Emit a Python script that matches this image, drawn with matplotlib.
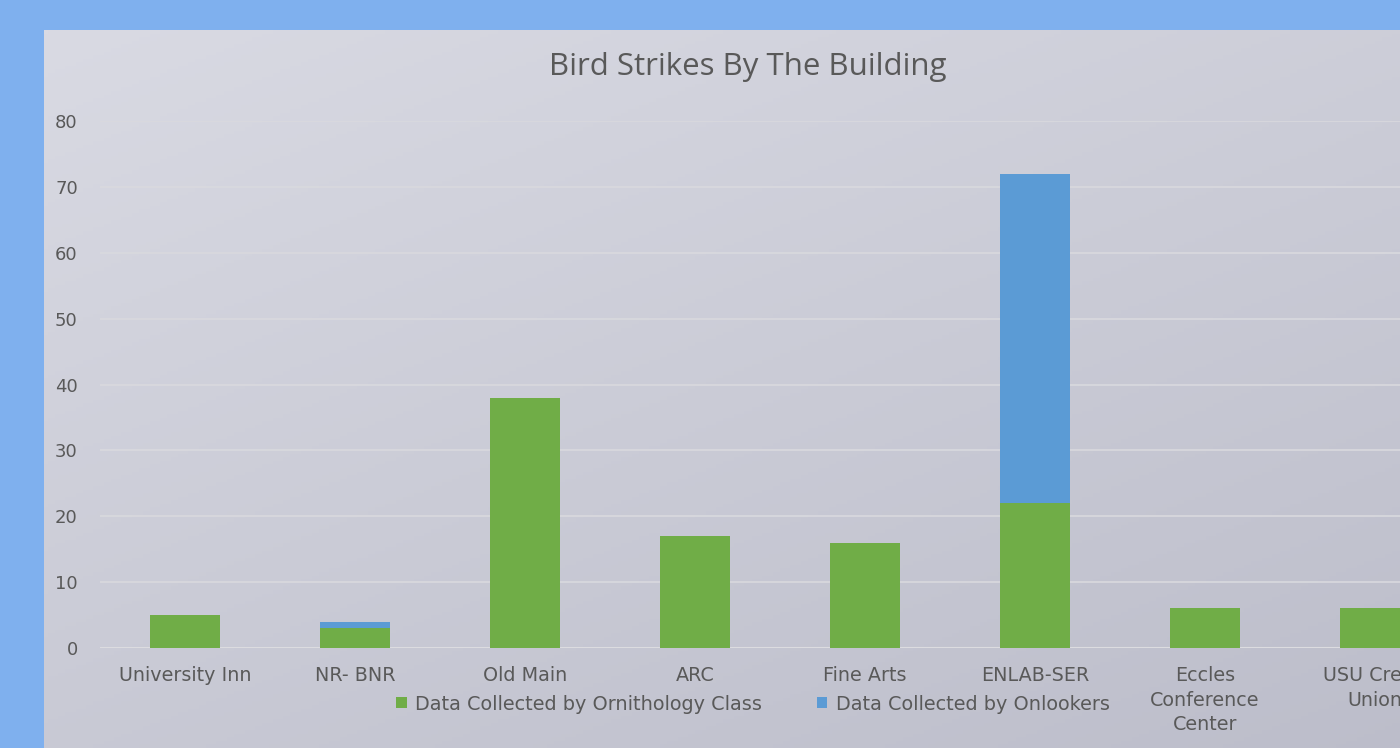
import matplotlib

matplotlib.use("Agg")
import matplotlib.pyplot as plt
import numpy as np

# Datos
edificios = [
    "University Inn",
    "NR- BNR",
    "Old Main",
    "ARC",
    "Fine Arts",
    "ENLAB-SER",
    "Eccles\nConference\nCenter",
    "USU Credit\nUnion",
]
ornitologia = [5, 3, 38, 17, 16, 22, 6, 6]
observadores = [0, 1, 0, 0, 0, 50, 0, 0]

verde = "#70AD47"
azul = "#5B9BD5"
gris_texto = "#595959"

fig = plt.figure(figsize=(14, 7.48), dpi=100)
fig.patch.set_facecolor("#7FB0EE")

# Fondo del área del gráfico con degradado diagonal
fondo = fig.add_axes([44 / 1400, 0, (1452 - 44) / 1400, 718 / 748])
fondo.set_axis_off()
yy, xx = np.mgrid[0:1:200j, 0:1:400j]
t = (xx * 0.6 + yy * 0.8) / 1.4
c0 = np.array([217, 218, 227]) / 255
c1 = np.array([188, 189, 202]) / 255
img = c0[None, None, :] * (1 - t[..., None]) + c1[None, None, :] * t[..., None]
fondo.imshow(img, aspect="auto", extent=[0, 1, 0, 1], origin="upper")
fondo.set_xlim(0, 1)
fondo.set_ylim(0, 1)

ax = fig.add_axes([100 / 1400, 100 / 748, 1360 / 1400, 527 / 748])
ax.patch.set_alpha(0)

x = np.arange(len(edificios))
ancho = 0.41
ax.bar(x, ornitologia, ancho, color=verde, label="Data Collected by Ornithology Class", zorder=3)
ax.bar(x, observadores, ancho, bottom=ornitologia, color=azul,
       label="Data Collected by Onlookers", zorder=3)

ax.set_xlim(-0.5, len(edificios) - 0.5)
ax.set_ylim(0, 80)
ax.set_yticks(range(0, 81, 10))
ax.grid(axis="y", color="#D9D9DE", linewidth=1.2, zorder=0)
ax.axhline(0, color="#DCDCE0", linewidth=1.5, zorder=2)
for s in ax.spines.values():
    s.set_visible(False)
ax.tick_params(length=0, colors=gris_texto, labelsize=13)
ax.tick_params(axis="y", pad=16)
ax.tick_params(axis="x", pad=13, labelsize=13.8)
ax.set_xticks(x)
ax.set_xticklabels(edificios, linespacing=1.38, va="top")

fig.text(748 / 1400, 1 - 67 / 748, "Bird Strikes By The Building", ha="center",
         va="center", fontsize=22.5, color=gris_texto, family="Open Sans")

fig.legend(loc="center", bbox_to_anchor=(753 / 1400, 1 - 704 / 748), ncol=2,
           frameon=False, fontsize=13.9, handlelength=0.55, handleheight=0.55,
           handletextpad=0.45, columnspacing=2.8, labelcolor=gris_texto)

fig.savefig("out.png", dpi=100, facecolor=fig.get_facecolor())
